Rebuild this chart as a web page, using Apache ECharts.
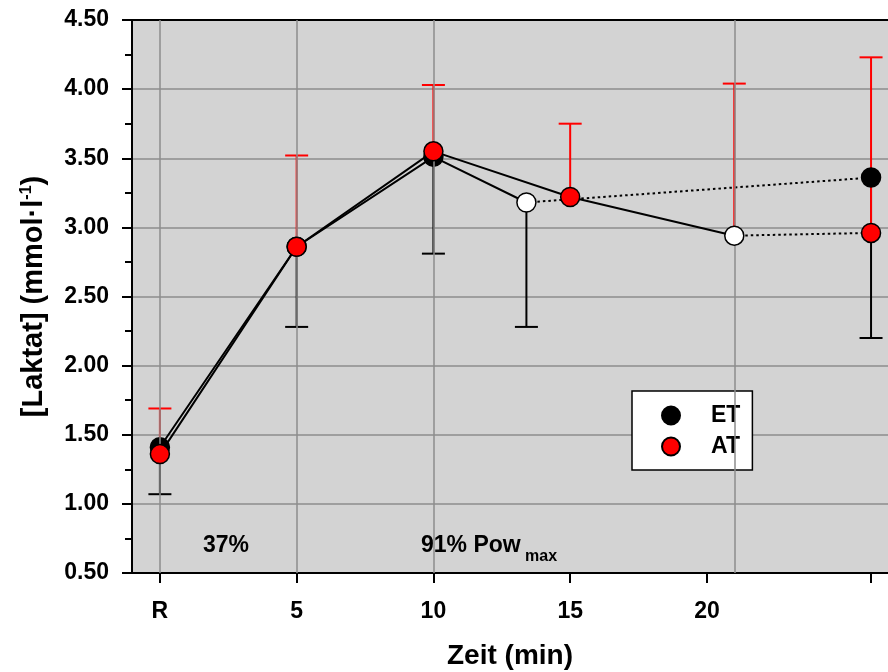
<!DOCTYPE html>
<html>
<head>
<meta charset="utf-8">
<script src="https://cdn.jsdelivr.net/npm/echarts@6/dist/echarts.min.js"></script>
<style>
  html, body { margin: 0; padding: 0; background: #ffffff; }
  #chart { width: 888px; height: 672px; }
</style>
</head>
<body>
<div id="chart"></div>
<script>
// Blood lactate over time for two groups (ET, AT), mean ± SD
// Exercise phase samples (min); the last one is the exhaustion point (open marker)
const etExTime = [0, 5, 10, 13.4];
const etExMean = [1.41, 2.86, 3.51, 3.18];
const etExSD   = [0.34, 0.58, 0.70, 0.90];
// Recovery sample
const etRecTime = [26];
const etRecMean = [3.36];
const etRecSD   = [1.16];

const atExTime = [0, 5, 10, 15, 21];
const atExMean = [1.36, 2.86, 3.55, 3.22, 2.94];
const atExSD   = [0.33, 0.66, 0.48, 0.53, 1.10];
const atRecTime = [26];
const atRecMean = [2.96];
const atRecSD   = [1.27];

// Axis ticks
const xTickValues  = [0, 5, 10, 15, 20, 26];
const xLabelValues = [0, 5, 10, 15, 20];
const xLabelText   = { 0: 'R' };
const verticalGridTimes = [0, 5, 10, 21];
const yMin = 0.5, yMax = 4.5, yStep = 0.5;

const FONT = 'Arial, "Liberation Sans", Helvetica, sans-serif';

const zip = (xs, ys) => xs.map((x, i) => [x, ys[i]]);

const etTime = etExTime.concat(etRecTime);
const etMean = etExMean.concat(etRecMean);
const etSD   = etExSD.concat(etRecSD);
const atTime = atExTime.concat(atRecTime);
const atMean = atExMean.concat(atRecMean);
const atSD   = atExSD.concat(atRecSD);

// ET: SD drawn downward, AT: SD drawn upward
const etBars = etTime.map((t, i) => [t, etMean[i], etMean[i] - etSD[i]]);
const atBars = atTime.map((t, i) => [t, atMean[i], atMean[i] + atSD[i]]);

function errorBarRenderer(color) {
  return function (params, api) {
    const x = api.value(0);
    const p0 = api.coord([x, api.value(1)]);
    const p1 = api.coord([x, api.value(2)]);
    const hw = 11.5;
    const style = { stroke: color, lineWidth: 2 };
    return {
      type: 'group',
      children: [
        { type: 'line', shape: { x1: p0[0], y1: p0[1], x2: p1[0], y2: p1[1] }, style },
        { type: 'line', shape: { x1: p1[0] - hw, y1: p1[1], x2: p1[0] + hw, y2: p1[1] }, style }
      ]
    };
  };
}

function markerData(times, means, openIndex) {
  return times.map((t, i) => i === openIndex
    ? { value: [t, means[i]], itemStyle: { color: '#ffffff' } }
    : { value: [t, means[i]] });
}

const chart = echarts.init(document.getElementById('chart'), null, { renderer: 'canvas' });

chart.setOption({
  animation: false,
  backgroundColor: '#ffffff',
  grid: {
    left: 132, right: 0, top: 20, bottom: 99,
    outerBoundsMode: 'none',
    show: true, backgroundColor: '#d3d3d3', borderWidth: 0
  },
  legend: {
    data: ['ET', 'AT'],
    orient: 'vertical',
    left: 632, top: 391,
    padding: [13, 12, 12, 29],
    itemGap: 8,
    itemWidth: 18, itemHeight: 18,
    icon: 'circle',
    backgroundColor: '#ffffff',
    borderColor: '#000000',
    borderWidth: 1.5,
    borderRadius: 0,
    textStyle: { fontFamily: FONT, fontWeight: 'bold', fontSize: 23, color: '#000', padding: [0, 0, 0, 26] }
  },
  xAxis: [{
    type: 'value',
    min: -1.02, max: 26.62,
    name: 'Zeit (min)',
    nameLocation: 'middle',
    nameGap: 69,
    nameTextStyle: { fontFamily: FONT, fontWeight: 'bold', fontSize: 28, color: '#000' },
    axisLine: { show: true, onZero: false, lineStyle: { color: '#000', width: 2 } },
    axisTick: { show: true, length: 10, customValues: xTickValues, lineStyle: { color: '#000', width: 2 } },
    axisLabel: {
      customValues: xLabelValues,
      margin: 27,
      fontFamily: FONT, fontWeight: 'bold', fontSize: 23, color: '#000',
      formatter: v => (xLabelText[v] !== undefined ? xLabelText[v] : String(v))
    },
    splitLine: { show: false }
  }, {
    type: 'value',
    position: 'top',
    min: -1.02, max: 26.62,
    axisLine: { show: true, onZero: false, lineStyle: { color: '#000', width: 2 } },
    axisTick: { show: false },
    axisLabel: { show: false },
    splitLine: { show: false }
  }],
  yAxis: {
    type: 'value',
    min: yMin, max: yMax, interval: yStep,
    name: '{a|[Laktat] (mmol·l}{s|-1}{a|)}',
    nameLocation: 'middle',
    nameRotate: 90,
    nameGap: 82,
    nameTextStyle: {
      rich: {
        a: { fontFamily: FONT, fontWeight: 'bold', fontSize: 29, color: '#000', lineHeight: 32 },
        s: { fontFamily: FONT, fontWeight: 'bold', fontSize: 16, color: '#000', padding: [0, 0, 15, 0] }
      }
    },
    axisLine: { show: true, onZero: false, lineStyle: { color: '#000', width: 2 } },
    axisTick: { show: true, length: 10, lineStyle: { color: '#000', width: 2 } },
    minorTick: { show: true, splitNumber: 2, length: 7, lineStyle: { color: '#000', width: 2 } },
    axisLabel: {
      margin: 23,
      fontFamily: FONT, fontWeight: 'bold', fontSize: 23, color: '#000',
      formatter: v => v.toFixed(2)
    },
    splitLine: { show: true, lineStyle: { color: '#8c8c8c', width: 1.5 } }
  },
  graphic: [
    { type: 'text', left: 203, top: 534, z: 10,
      style: { text: '37%', font: 'bold 23px ' + FONT, fill: '#000' } },
    { type: 'text', left: 421, top: 534, z: 10,
      style: { text: '91% Pow', font: 'bold 23px ' + FONT, fill: '#000' } },
    { type: 'text', left: 525, top: 549, z: 10,
      style: { text: 'max', font: 'bold 16px ' + FONT, fill: '#000' } }
  ],
  series: [
    {
      type: 'scatter', data: [], z: 1, silent: true,
      markLine: {
        silent: true, symbol: 'none', animation: false,
        label: { show: false },
        lineStyle: { color: '#8c8c8c', width: 1.5, type: 'solid' },
        data: verticalGridTimes.map(t => ({ xAxis: t }))
      }
    },
    { type: 'custom', z: 2, renderItem: errorBarRenderer('#000000'), data: etBars, encode: { x: 0, y: [1, 2] }, silent: true },
    { type: 'custom', z: 2, renderItem: errorBarRenderer('#ff0000'), data: atBars, encode: { x: 0, y: [1, 2] }, silent: true },
    { type: 'line', z: 3, showSymbol: false, data: zip(etExTime, etExMean),
      lineStyle: { color: '#000', width: 2 }, silent: true },
    { type: 'line', z: 3, showSymbol: false,
      data: [[etExTime[etExTime.length - 1], etExMean[etExMean.length - 1]]].concat(zip(etRecTime, etRecMean)),
      lineStyle: { color: '#000', width: 2, type: [2.5, 3] }, silent: true },
    { type: 'line', z: 3, showSymbol: false, data: zip(atExTime, atExMean),
      lineStyle: { color: '#000', width: 2 }, silent: true },
    { type: 'line', z: 3, showSymbol: false,
      data: [[atExTime[atExTime.length - 1], atExMean[atExMean.length - 1]]].concat(zip(atRecTime, atRecMean)),
      lineStyle: { color: '#000', width: 2, type: [2.5, 3] }, silent: true },
    { name: 'ET', type: 'scatter', z: 4, symbol: 'circle', symbolSize: 19,
      itemStyle: { color: '#000000', borderColor: '#000', borderWidth: 1.5, opacity: 1 },
      data: markerData(etTime, etMean, etExTime.length - 1) },
    { name: 'AT', type: 'scatter', z: 5, symbol: 'circle', symbolSize: 19,
      itemStyle: { color: '#ff0000', borderColor: '#000', borderWidth: 1.5, opacity: 1 },
      data: markerData(atTime, atMean, atExTime.length - 1) }
  ]
});
</script>
</body>
</html>
